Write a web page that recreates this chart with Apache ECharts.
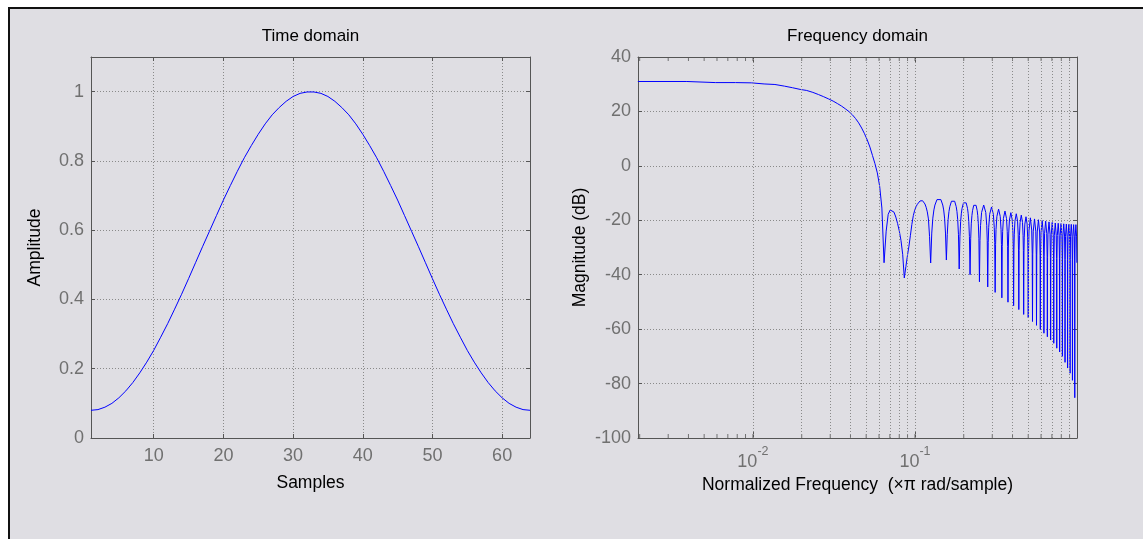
<!DOCTYPE html>
<html>
<head>
<meta charset="utf-8">
<title>Window visualization</title>
<script src="https://cdn.jsdelivr.net/npm/echarts@6/dist/echarts.min.js"></script>
<style>
  html, body { margin: 0; padding: 0; background: #fff; }
  #frame {
    position: absolute; left: 8px; top: 7px; width: 1135px; height: 532px;
    box-sizing: border-box; background: #dfdee3;
    border-left: 2px solid #111; border-top: 2px solid #111;
  }
  #chart { position: absolute; left: 0; top: 0; width: 1143px; height: 539px; }
</style>
</head>
<body>
<div id="frame"></div>
<div id="chart"></div>
<script>
// time domain: 64 samples of the window
const sampleIndex = [1,2,3,4,5,6,7,8,9,10,11,12,13,14,15,16,17,18,19,20,21,22,23,24,25,26,27,28,29,30,31,32,
  33,34,35,36,37,38,39,40,41,42,43,44,45,46,47,48,49,50,51,52,53,54,55,56,57,58,59,60,61,62,63,64];
const amplitude = [0.080,0.082,0.089,0.100,0.116,0.136,0.160,0.188,0.219,0.253,0.291,0.330,0.372,0.415,0.460,0.506,
  0.552,0.597,0.642,0.687,0.729,0.770,0.809,0.844,0.877,0.907,0.933,0.954,0.972,0.986,0.995,0.999,
  0.999,0.995,0.986,0.972,0.954,0.933,0.907,0.877,0.844,0.809,0.770,0.729,0.687,0.642,0.597,0.552,
  0.506,0.460,0.415,0.372,0.330,0.291,0.253,0.219,0.188,0.160,0.136,0.116,0.100,0.089,0.082,0.080];
const sampleTicks = [10, 20, 30, 40, 50, 60];

// frequency domain: main lobe
const mainLobeFreq = [0.00195,0.00391,0.00586,0.00781,0.00977,0.01172,0.01367,0.01563,0.01758,0.01953,0.02148,
  0.02344,0.02539,0.02734,0.02930,0.03125,0.03320,0.03516,0.03711,0.03906,0.04102,0.04297,0.04492,0.04688,
  0.04883,0.05078,0.05273,0.05469,0.05664,0.05859,0.06055,0.06250,0.06445];
const mainLobeDb = [31.0,31.0,30.6,30.6,30.5,30.1,29.9,29.3,28.7,28.1,27.7,
  27.0,26.2,25.4,24.6,23.8,22.9,22.0,21.0,20.0,18.8,17.4,15.8,13.9,
  11.8,9.5,6.9,3.8,0.8,-2.6,-7.5,-15.5,-35.6];

// first two sidelobes
const nearLobeFreq = [0.06641,0.06836,0.07031,0.07227,0.07422,0.07617,0.07813,0.08008,0.08203,0.08398,
  0.08594,0.08789,0.08984,0.09180,0.09375,0.09570,0.09766,0.09961,0.10156,0.10352,
  0.10547,0.10742,0.10938,0.11133,0.11328,0.11523,0.11719,0.11914,0.12109,0.12305];
const nearLobeDb = [-24.0,-17.8,-16.2,-16.0,-17.0,-18.8,-21.2,-24.0,-27.5,-32.5,
  -41.2,-37.0,-33.0,-29.5,-25.5,-21.5,-18.3,-16.3,-15.0,-14.1,
  -13.4,-12.9,-12.7,-12.8,-13.2,-14.0,-15.2,-16.9,-19.5,-26.0];

// remaining sidelobes, one line per lobe
const farLobeFreq = [
  0.12500,0.12695,0.12891,0.13086,0.13281,0.13672,0.14063,0.14453,0.14844,0.15039,0.15234,0.15430,
  0.15625,0.15820,0.16016,0.16211,0.16406,0.16797,0.17188,0.17578,0.17969,0.18164,0.18359,0.18555,
  0.18750,0.18945,0.19141,0.19336,0.19531,0.19922,0.20313,0.20703,0.21094,0.21289,0.21484,0.21680,
  0.21875,0.22070,0.22266,0.22461,0.22656,0.23047,0.23438,0.23828,0.24219,0.24414,0.24609,0.24805,
  0.25000,0.25195,0.25391,0.25781,0.26563,0.27344,0.27734,0.27930,
  0.28125,0.28320,0.28516,0.28906,0.29688,0.30469,0.30859,0.31055,
  0.31250,0.31445,0.31641,0.32031,0.32813,0.33594,0.33984,0.34180,
  0.34375,0.34570,0.34766,0.35156,0.35938,0.36719,0.37109,0.37305,
  0.37500,0.37695,0.37891,0.38281,0.39063,0.39844,0.40234,0.40430,
  0.40625,0.40820,0.41016,0.41406,0.42188,0.42969,0.43359,0.43555,
  0.43750,0.43945,0.44141,0.44531,0.45313,0.46094,0.46484,0.46680,
  0.46875,0.47070,0.47266,0.47656,0.48438,0.49219,0.49609,0.49805,
  0.50000,0.50195,0.50586,0.51563,0.52539,0.52930,
  0.53125,0.53320,0.53711,0.54688,0.55664,0.56055,
  0.56250,0.56445,0.56836,0.57813,0.58789,0.59180,
  0.59375,0.59570,0.59961,0.60938,0.61914,0.62305,
  0.62500,0.62695,0.63086,0.64063,0.65039,0.65430,
  0.65625,0.65820,0.66211,0.67188,0.68164,0.68555,
  0.68750,0.68945,0.69336,0.70313,0.71289,0.71680,
  0.71875,0.72070,0.72461,0.73438,0.74414,0.74805,
  0.75000,0.75195,0.75586,0.76563,0.77539,0.77930,
  0.78125,0.78320,0.78711,0.79688,0.80664,0.81055,
  0.81250,0.81445,0.81836,0.82813,0.83789,0.84180,
  0.84375,0.84570,0.84961,0.85938,0.86914,0.87305,
  0.87500,0.87695,0.88086,0.89063,0.90039,0.90430,
  0.90625,0.90820,0.91211,0.92188,0.93164,0.93555,
  0.93750,0.93945,0.94336,0.95313,0.96289,0.96680,
  0.96875,0.97070,0.97461,0.98438,0.99414,0.99805];
const farLobeDb = [
  -35.7,-24.7,-19.2,-16.2,-14.4,-12.4,-11.7,-12.4,-14.4,-16.2,-19.2,-24.7,
  -34.6,-25.3,-19.8,-16.8,-15.0,-13.0,-12.3,-13.0,-15.0,-16.8,-19.8,-25.3,
  -37.9,-25.9,-20.4,-17.4,-15.6,-13.6,-12.9,-13.6,-15.6,-17.4,-20.4,-25.9,
  -40.0,-26.8,-21.3,-18.3,-16.5,-14.5,-13.8,-14.5,-16.5,-18.3,-21.3,-26.8,
  -42.6,-27.4,-21.9,-17.1,-14.4,-17.1,-21.9,-27.4,
  -44.5,-28.1,-22.6,-17.8,-15.1,-17.8,-22.6,-28.1,
  -46.5,-28.9,-23.4,-18.6,-15.9,-18.6,-23.4,-28.9,
  -48.5,-29.6,-24.1,-19.3,-16.6,-19.3,-24.1,-29.6,
  -50.1,-30.2,-24.7,-19.9,-17.2,-19.9,-24.7,-30.2,
  -51.4,-30.6,-25.1,-20.3,-17.6,-20.3,-25.1,-30.6,
  -52.8,-31.1,-25.6,-20.8,-18.1,-20.8,-25.6,-31.1,
  -54.6,-31.7,-26.2,-21.4,-18.7,-21.4,-26.2,-31.7,
  -55.8,-32.1,-23.6,-19.1,-23.6,-32.1,
  -57.2,-32.5,-24.0,-19.5,-24.0,-32.5,
  -58.6,-32.8,-24.3,-19.8,-24.3,-32.8,
  -60.1,-33.1,-24.6,-20.1,-24.6,-33.1,
  -61.5,-33.3,-24.8,-20.3,-24.8,-33.3,
  -62.8,-33.6,-25.1,-20.6,-25.1,-33.6,
  -64.0,-33.8,-25.3,-20.8,-25.3,-33.8,
  -65.2,-34.0,-25.5,-21.0,-25.5,-34.0,
  -67.0,-34.1,-25.6,-21.1,-25.6,-34.1,
  -68.4,-34.2,-25.7,-21.2,-25.7,-34.2,
  -70.0,-34.3,-25.8,-21.3,-25.8,-34.3,
  -72.2,-34.4,-25.9,-21.4,-25.9,-34.4,
  -74.3,-34.5,-26.0,-21.5,-26.0,-34.5,
  -76.2,-34.5,-26.0,-21.5,-26.0,-34.5,
  -78.8,-34.6,-26.1,-21.6,-26.1,-34.6,
  -85.2,-34.6,-26.1,-21.6,-26.1,-35.6];

// log axis decorations
const freqGridLines = [0.002,0.003,0.004,0.005,0.006,0.007,0.008,0.009,
  0.01,0.02,0.03,0.04,0.05,0.06,0.07,0.08,0.09,
  0.1,0.2,0.3,0.4,0.5,0.6,0.7,0.8,0.9];
const decadeTicks = [0.01, 0.1];
const decadeExponents = ['-2', '-1'];

const FONT = '"Liberation Sans", Arial, Helvetica, sans-serif';
const tickGrey = '#707070';
const boxGrey = '#555555';
const gridLineStyle = { color: '#8a8a8a', type: [1, 2], width: 1 };

const zip = (xs, ys) => xs.map((x, i) => [x, ys[i]]);
const freqData = zip(mainLobeFreq, mainLobeDb)
  .concat(zip(nearLobeFreq, nearLobeDb))
  .concat(zip(farLobeFreq, farLobeDb));

const axisLine = { show: true, onZero: false, lineStyle: { color: boxGrey, width: 1 } };
const labelStyle = { color: tickGrey, fontSize: 18, fontFamily: FONT };
const nameStyle = { color: '#000', fontSize: 17.5, fontFamily: FONT };
const titleStyle = { color: '#000', fontSize: 17, fontFamily: FONT };

const chart = echarts.init(document.getElementById('chart'));

const option = {
  backgroundColor: 'transparent',
  animation: false,
  grid: [
    { left: 91, top: 57, width: 439, height: 381 },
    { left: 638, top: 57, width: 439, height: 381 }
  ],
  xAxis: [
    {
      gridIndex: 0, type: 'value', position: 'bottom', min: 1, max: 64,
      axisLine: axisLine,
      axisTick: { inside: true, length: 4, customValues: sampleTicks, lineStyle: { color: boxGrey } },
      axisLabel: Object.assign({ customValues: sampleTicks, margin: 9 }, labelStyle),
      splitLine: { show: true, lineStyle: gridLineStyle },
      name: 'Samples', nameLocation: 'middle', nameGap: 36, nameTextStyle: nameStyle
    },
    {
      gridIndex: 0, type: 'value', position: 'top', min: 1, max: 64,
      axisLine: axisLine,
      axisTick: { inside: true, length: 4, customValues: sampleTicks, lineStyle: { color: boxGrey } },
      axisLabel: { show: false },
      splitLine: { show: false },
      name: 'Time domain', nameLocation: 'middle', nameGap: 12, nameTextStyle: titleStyle
    },
    {
      gridIndex: 1, type: 'log', logBase: 10, position: 'bottom', min: 0.001953125, max: 1,
      axisLine: axisLine,
      axisTick: { inside: true, length: 6, lineStyle: { color: boxGrey } },
      axisLabel: {
        margin: 7,
        formatter: function (v) {
          const i = decadeTicks.findIndex(d => Math.abs(d - v) < d * 1e-6);
          return i < 0 ? '' : '{b|10}{s|' + decadeExponents[i] + '}';
        },
        rich: {
          b: { color: tickGrey, fontSize: 18, fontFamily: FONT, verticalAlign: 'bottom' },
          s: { color: tickGrey, fontSize: 12.5, fontFamily: FONT, verticalAlign: 'bottom', padding: [0, 0, 13, 0] }
        }
      },
      splitLine: { show: false },
      name: 'Normalized Frequency  (\u00d7\u03c0 rad/sample)', nameLocation: 'middle', nameGap: 38,
      nameTextStyle: nameStyle
    },
    {
      gridIndex: 1, type: 'log', logBase: 10, position: 'top', min: 0.001953125, max: 1,
      axisLine: axisLine,
      axisTick: { inside: true, length: 6, lineStyle: { color: boxGrey } },
      axisLabel: { show: false },
      splitLine: { show: false },
      name: 'Frequency domain', nameLocation: 'middle', nameGap: 12, nameTextStyle: titleStyle
    }
  ],
  yAxis: [
    {
      gridIndex: 0, type: 'value', position: 'left', min: 0, max: 1.1, interval: 0.2,
      axisLine: axisLine,
      axisTick: { inside: true, length: 4, lineStyle: { color: boxGrey } },
      axisLabel: Object.assign({ margin: 7, formatter: v => (v > 1.05 ? '' : String(v)) }, labelStyle),
      splitLine: { show: true, lineStyle: gridLineStyle },
      name: 'Amplitude', nameLocation: 'middle', nameGap: 47, nameTextStyle: nameStyle
    },
    {
      gridIndex: 0, type: 'value', position: 'right', min: 0, max: 1.1, interval: 0.2,
      axisLine: axisLine,
      axisTick: { inside: true, length: 4, lineStyle: { color: boxGrey } },
      axisLabel: { show: false },
      splitLine: { show: false }
    },
    {
      gridIndex: 1, type: 'value', position: 'left', min: -100, max: 40, interval: 20,
      axisLine: axisLine,
      axisTick: { inside: true, length: 4, lineStyle: { color: boxGrey } },
      axisLabel: Object.assign({ margin: 7 }, labelStyle),
      splitLine: { show: true, lineStyle: gridLineStyle },
      name: 'Magnitude (dB)', nameLocation: 'middle', nameGap: 49, nameTextStyle: nameStyle
    },
    {
      gridIndex: 1, type: 'value', position: 'right', min: -100, max: 40, interval: 20,
      axisLine: axisLine,
      axisTick: { inside: true, length: 4, lineStyle: { color: boxGrey } },
      axisLabel: { show: false },
      splitLine: { show: false }
    }
  ],
  series: [
    {
      name: 'Time domain', type: 'line', xAxisIndex: 0, yAxisIndex: 0,
      data: zip(sampleIndex, amplitude),
      symbol: 'none', silent: true, z: 3,
      lineStyle: { color: '#0000ff', width: 1 }, itemStyle: { color: '#0000ff' }
    },
    {
      // vertical log grid
      type: 'line', xAxisIndex: 2, yAxisIndex: 2, data: [], z: 1, silent: true,
      markLine: {
        silent: true, symbol: ['none', 'none'], label: { show: false },
        lineStyle: gridLineStyle, emphasis: { disabled: true },
        data: freqGridLines.map(v => ({ xAxis: v }))
      }
    },
    {
      // minor ticks, bottom edge
      type: 'scatter', xAxisIndex: 2, yAxisIndex: 2, silent: true, clip: false, z: 2,
      data: freqGridLines.map(v => [v, -100]),
      symbol: 'rect', symbolSize: [1, 4], symbolOffset: [0, -2],
      itemStyle: { color: boxGrey }
    },
    {
      // minor ticks, top edge
      type: 'scatter', xAxisIndex: 2, yAxisIndex: 2, silent: true, clip: false, z: 2,
      data: freqGridLines.map(v => [v, 40]),
      symbol: 'rect', symbolSize: [1, 4], symbolOffset: [0, 2],
      itemStyle: { color: boxGrey }
    },
    {
      name: 'Frequency domain', type: 'line', xAxisIndex: 2, yAxisIndex: 2,
      data: freqData,
      symbol: 'none', silent: true, z: 3,
      lineStyle: { color: '#0000ff', width: 1 }, itemStyle: { color: '#0000ff' }
    }
  ]
};

chart.setOption(option);
</script>
</body>
</html>
